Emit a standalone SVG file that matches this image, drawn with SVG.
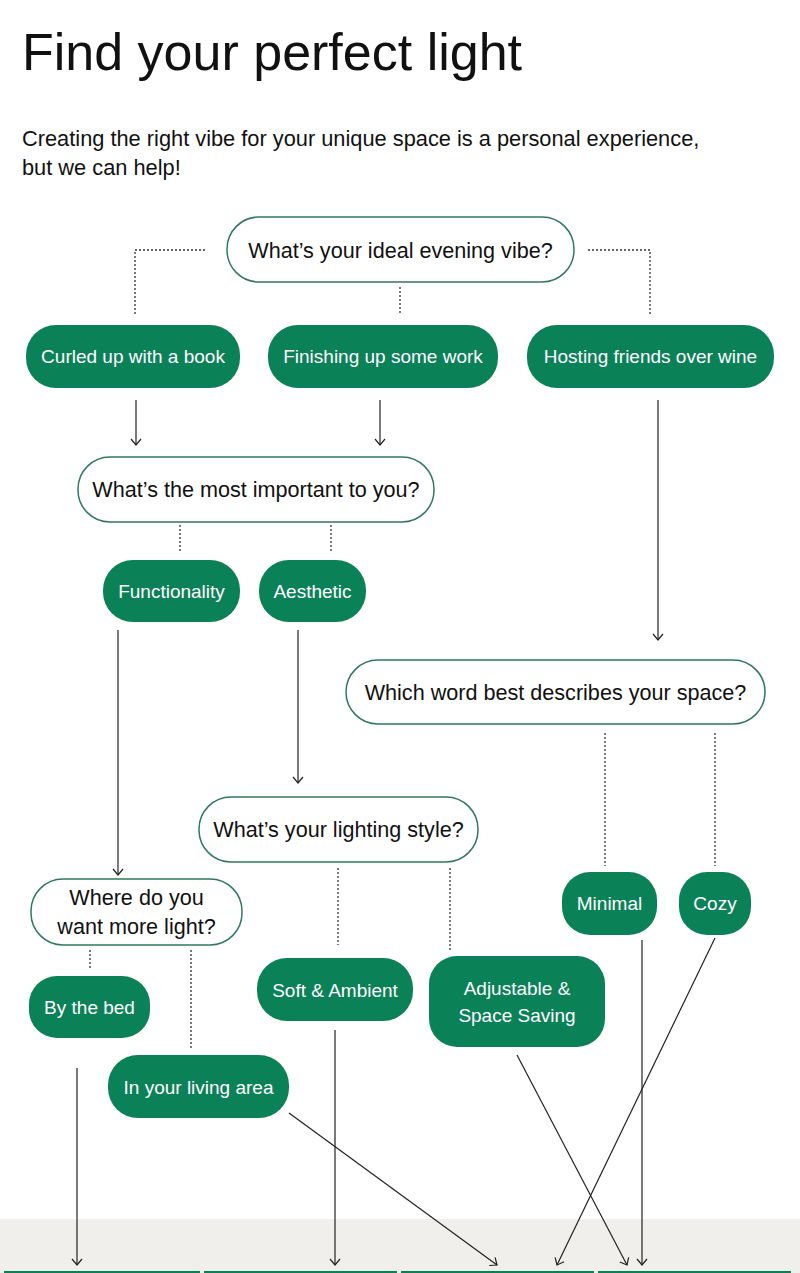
<svg xmlns="http://www.w3.org/2000/svg" width="800" height="1273" viewBox="0 0 800 1273">
<style>
  text { font-family: "Liberation Sans", Arial, sans-serif; }
  .title { font-size: 52px; fill: #111; }
  .sub { font-size: 21.8px; fill: #111; }
  .q rect { fill: #fff; stroke: #2f7a5a; stroke-width: 1.5; }
  .q text { font-size: 21.6px; fill: #111; text-anchor: middle; }
  .p rect { fill: #0b8158; }
  .p text { font-size: 19px; fill: #fff; text-anchor: middle; }
  .dot { stroke: #333; stroke-width: 1.3; stroke-dasharray: 2 2; fill: none; }
  .arr { stroke: #222; stroke-width: 1.2; fill: none; marker-end: url(#ah); }
</style>
<defs>
  <marker id="ah" markerUnits="userSpaceOnUse" viewBox="-8 -6 10 12" refX="0" refY="0" markerWidth="10" markerHeight="12" orient="auto">
    <path d="M-6,-5 L0,0 L-6,5" fill="none" stroke="#222" stroke-width="1.2"/>
  </marker>
</defs>
<rect x="0" y="0" width="800" height="1273" fill="#fff"/>
<rect x="0" y="1219" width="800" height="54" fill="#f1efeb"/>
<g id="bottom-cards" stroke="#0b8158" stroke-width="2">
  <line x1="4" y1="1272" x2="200" y2="1272"/>
  <line x1="204" y1="1272" x2="397" y2="1272"/>
  <line x1="401" y1="1272" x2="594" y2="1272"/>
  <line x1="598" y1="1272" x2="791" y2="1272"/>
</g>

<text class="title" x="22" y="70">Find your perfect light</text>
<text class="sub" x="22" y="146">Creating the right vibe for your unique space is a personal experience,</text>
<text class="sub" x="22" y="175">but we can help!</text>

<g id="connectors">
  <polyline class="dot" points="205,250 135,250 135,315"/>
  <polyline class="dot" points="588,250 650,250 650,315"/>
  <line class="dot" x1="400" y1="287" x2="400" y2="315"/>
  <line class="arr" x1="136" y1="400" x2="136" y2="445"/>
  <line class="arr" x1="380" y1="400" x2="380" y2="445"/>
  <line class="arr" x1="658" y1="400" x2="658" y2="640"/>
  <line class="dot" x1="180" y1="525" x2="180" y2="552"/>
  <line class="dot" x1="331" y1="525" x2="331" y2="552"/>
  <line class="arr" x1="118" y1="630" x2="118" y2="875"/>
  <line class="arr" x1="298" y1="630" x2="298" y2="783"/>
  <line class="dot" x1="605" y1="733" x2="605" y2="866"/>
  <line class="dot" x1="715" y1="733" x2="715" y2="866"/>
  <line class="dot" x1="338" y1="868" x2="338" y2="945"/>
  <line class="dot" x1="450" y1="868" x2="450" y2="950"/>
  <line class="dot" x1="90" y1="950" x2="90" y2="970"/>
  <line class="dot" x1="191" y1="950" x2="191" y2="1050"/>
  <line class="arr" x1="77" y1="1068" x2="77" y2="1265"/>
  <line class="arr" x1="335" y1="1030" x2="335" y2="1265"/>
  <line class="arr" x1="289" y1="1113" x2="497" y2="1265"/>
  <line class="arr" x1="517" y1="1055" x2="627" y2="1265"/>
  <line class="arr" x1="715" y1="938" x2="557" y2="1265"/>
  <line class="arr" x1="642" y1="940" x2="642" y2="1265"/>
</g>

<g id="q-evening" class="q">
  <rect x="227" y="217" width="347" height="65" rx="32"/>
  <text x="400.5" y="258">What’s your ideal evening vibe?</text>
</g>
<g id="p-book" class="p">
  <rect x="26" y="325" width="214" height="63" rx="30"/>
  <text x="133" y="363">Curled up with a book</text>
</g>
<g id="p-work" class="p">
  <rect x="268" y="325" width="230" height="63" rx="30"/>
  <text x="383" y="363">Finishing up some work</text>
</g>
<g id="p-wine" class="p">
  <rect x="527" y="325" width="247" height="63" rx="30"/>
  <text x="650.5" y="363">Hosting friends over wine</text>
</g>
<g id="q-important" class="q">
  <rect x="78" y="457" width="356" height="65" rx="32"/>
  <text x="256" y="497">What’s the most important to you?</text>
</g>
<g id="p-functionality" class="p">
  <rect x="103" y="560" width="137" height="62" rx="30"/>
  <text x="171.5" y="598">Functionality</text>
</g>
<g id="p-aesthetic" class="p">
  <rect x="259" y="560" width="107" height="62" rx="30"/>
  <text x="312.5" y="598">Aesthetic</text>
</g>
<g id="q-space" class="q">
  <rect x="346" y="660" width="419" height="64" rx="32"/>
  <text x="555.5" y="700">Which word best describes your space?</text>
</g>
<g id="q-style" class="q">
  <rect x="199" y="797" width="279" height="65" rx="32"/>
  <text x="338.5" y="837">What’s your lighting style?</text>
</g>
<g id="q-where" class="q">
  <rect x="31" y="879" width="211" height="66" rx="32"/>
  <text x="136.5" y="905">Where do you</text>
  <text x="136.5" y="934">want more light?</text>
</g>
<g id="p-minimal" class="p">
  <rect x="562" y="872" width="95" height="63" rx="28"/>
  <text x="609.5" y="910">Minimal</text>
</g>
<g id="p-cozy" class="p">
  <rect x="679" y="872" width="72" height="63" rx="28"/>
  <text x="715" y="910">Cozy</text>
</g>
<g id="p-bed" class="p">
  <rect x="29" y="976" width="121" height="62" rx="28"/>
  <text x="89.5" y="1014">By the bed</text>
</g>
<g id="p-soft" class="p">
  <rect x="257" y="958" width="156" height="63" rx="30"/>
  <text x="335" y="997">Soft &amp; Ambient</text>
</g>
<g id="p-adjustable" class="p">
  <rect x="429" y="956" width="176" height="91" rx="28"/>
  <text x="517" y="995">Adjustable &amp;</text>
  <text x="517" y="1022">Space Saving</text>
</g>
<g id="p-living" class="p">
  <rect x="108" y="1055" width="181" height="63" rx="30"/>
  <text x="198.5" y="1094">In your living area</text>
</g>
</svg>
